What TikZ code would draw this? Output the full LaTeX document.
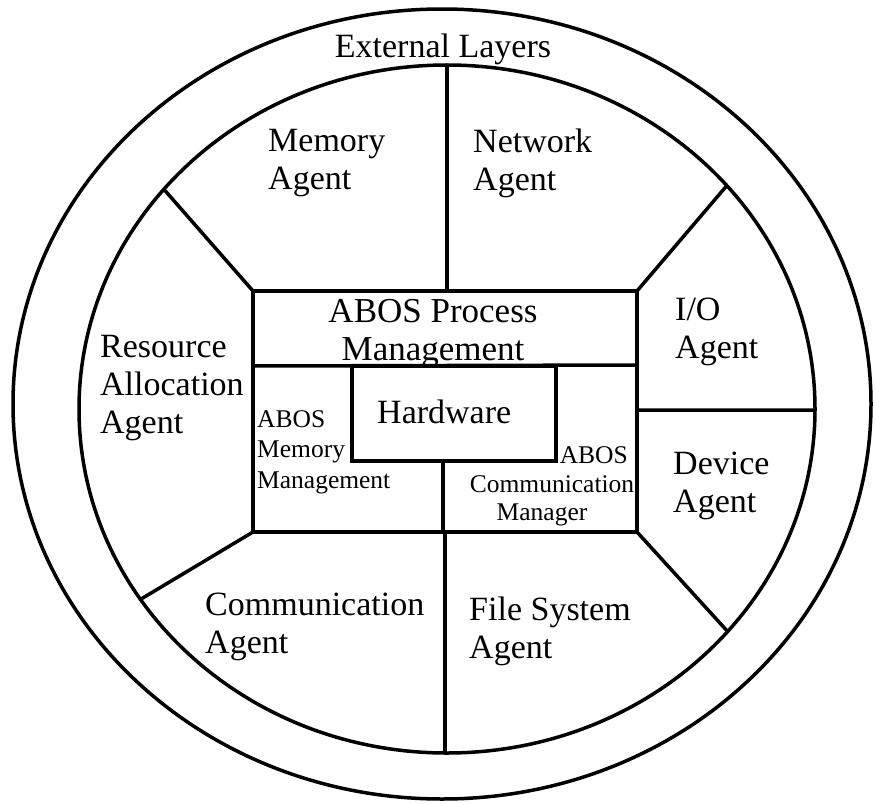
\documentclass[tikz,border=0pt]{standalone}
\usepackage{fontspec}
\setmainfont{Liberation Serif}
\usetikzlibrary{calc}
\tikzset{
  line/.style={line width=3.5pt, line cap=round, line join=miter},
  big/.style={inner sep=0pt, font=\fontsize{34}{38}\selectfont, align=left},
  bigc/.style={inner sep=0pt, font=\fontsize{35}{38}\selectfont, align=center},
  small/.style={inner sep=0pt, font=\fontsize{25.5}{30.5}\selectfont, align=left},
}
\begin{document}
\begin{tikzpicture}[x=1pt,y=-1pt]
\useasboundingbox (0,0) rectangle (875,803);
% ellipses
\coordinate (oc) at (442,404);
\coordinate (ic) at (447,409);
\draw[line] (oc) ellipse [x radius=429, y radius=395];
\draw[line] (ic) ellipse [x radius=368, y radius=344];
% points on inner ellipse
\coordinate (etl) at ($(ic)+(219.7:368 and 344)$);
\coordinate (etr) at ($(ic)+(319.5:368 and 344)$);
\coordinate (ebl) at ($(ic)+(146.4:368 and 344)$);
\coordinate (ebr) at ($(ic)+(40.3:368 and 344)$);
\coordinate (er)  at ($(ic)+(0.2:368 and 344)$);
\coordinate (etop) at (447,65);
\coordinate (ebot) at (445,753);
% central box
\coordinate (btl) at (253,291);
\coordinate (btr) at (637,291);
\coordinate (bbr) at (637,532);
\coordinate (bbl) at (253,532);
\coordinate (dl) at (253,366);
\coordinate (dr) at (637,365);
\coordinate (bt) at (447,291);
\coordinate (bb) at (445,532);
\coordinate (hb) at (443,461);
\coordinate (hbb) at (443,532);
\coordinate (bre) at (637,410);
\draw[line] (btl) -- (btr) -- (bbr) -- (bbl) -- cycle;
\draw[line] (dl) -- (dr);
\draw[line] (352,366) rectangle (556,461);
\draw[line] (hb) -- (hbb);
% radial separators
\draw[line] (etop) -- (bt);
\draw[line] (bb) -- (ebot);
\draw[line] (btl) -- (etl);
\draw[line] (btr) -- (etr);
\draw[line] (bbl) -- (ebl);
\draw[line] (bbr) -- (ebr);
\draw[line] (bre) -- (er);
% texts (base anchor = baseline of last line)
\node[big, anchor=base] (ext) at (443,57) {External Layers};
\node[big, anchor=base west] (mem) at (268,189) {Memory\\Agent};
\node[big, anchor=base west] (net) at (473,190) {Network\\Agent};
\node[bigc, anchor=base] (proc) at (433,360) {ABOS Process\\Management};
\node[big, anchor=base west] (res) at (100,433) {Resource\\Allocation\\Agent};
\node[big, anchor=base west] (io) at (675,358) {I/O\\Agent};
\node[big, anchor=base west] (dev) at (673,512) {Device\\Agent};
\node[big, anchor=base west] (hw) at (377,423) {Hardware};
\node[small, anchor=base west] (amm) at (257,488) {ABOS\\Memory\\Management};
\node[small, anchor=base east] (cm1) at (628,463) {ABOS};
\node[small, anchor=base] (cm2) at (552,492) {Communication};
\node[small, anchor=base] (cm3) at (542,520) {Manager};
\node[big, anchor=base west] (com) at (205,653) {Communication\\Agent};
\node[big, anchor=base west] (fs) at (469,658) {File System\\Agent};
\end{tikzpicture}
\end{document}
